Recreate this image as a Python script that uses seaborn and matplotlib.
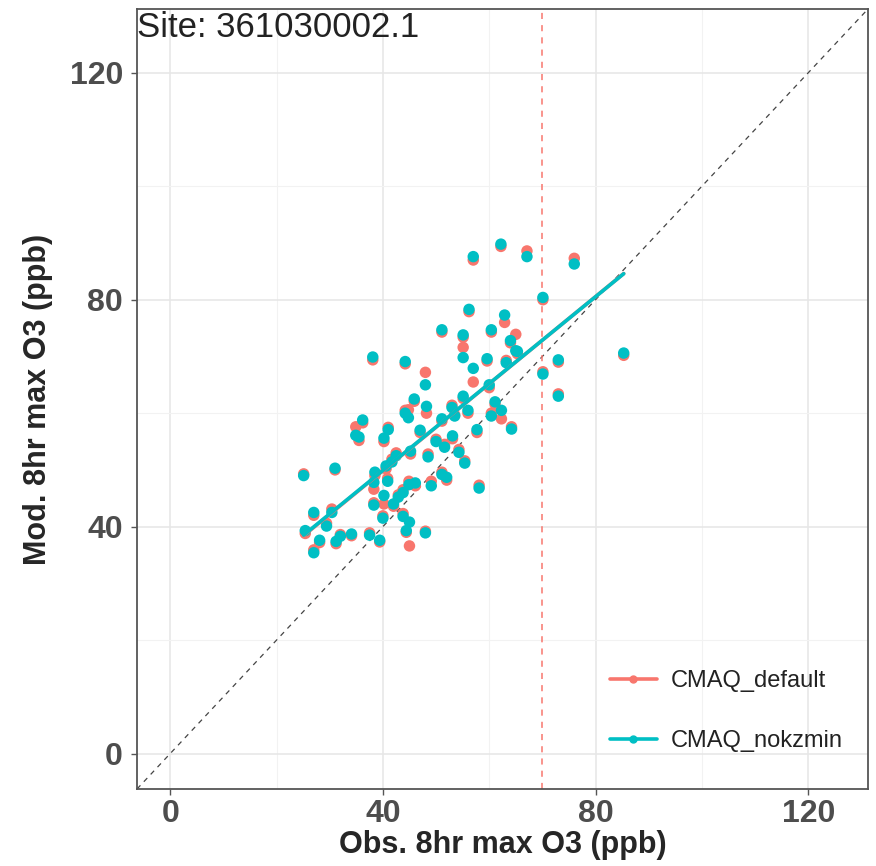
import numpy as np
import pandas as pd
import matplotlib
matplotlib.use("Agg")
import matplotlib.pyplot as plt
from matplotlib.lines import Line2D
from matplotlib.ticker import MultipleLocator
import seaborn as sns

obs = [25.1, 27.0, 25.4, 27.0, 28.1, 29.4, 31.0, 30.4, 31.2, 32.0,
       34.1, 34.9, 36.2, 35.5, 38.1, 37.5, 39.4, 38.3, 38.5, 38.3,
       40.0, 40.2, 41.0, 40.6, 40.9, 41.7, 40.2, 42.0, 42.9, 43.8,
       44.2, 44.2, 44.8, 45.9, 45.2, 43.8, 44.4, 45.0, 46.1, 44.9,
       48.0, 48.0, 48.2, 48.5, 49.1, 51.1, 51.1, 51.6, 51.1, 52.0,
       53.5, 53.1, 54.3, 55.1, 55.1, 55.1, 55.4, 56.2, 57.0, 57.0,
       57.7, 58.1, 59.6, 60.4, 60.0, 60.4, 61.1, 62.2, 62.9, 62.3,
       63.2, 64.0, 64.2, 65.0, 65.3, 67.1, 70.1, 70.1, 73.0, 73.0,
       76.0, 85.3, 53.0, 56.0, 50.0, 47.0, 42.5]
mod_nokzmin = [49.0, 42.5, 39.3, 35.4, 37.6, 40.1, 50.3, 42.5, 37.4, 38.3,
               38.7, 56.1, 58.8, 55.8, 69.9, 38.5, 37.6, 43.8, 49.6, 47.8,
               41.5, 55.6, 57.1, 50.7, 48.0, 51.4, 45.5, 44.0, 45.2, 46.0,
               69.1, 60.0, 59.2, 62.5, 53.3, 41.8, 39.3, 40.8, 47.7, 47.4,
               38.9, 65.0, 61.2, 52.3, 47.2, 74.7, 59.0, 54.0, 49.2, 48.7,
               59.5, 56.0, 53.1, 73.8, 69.8, 63.0, 51.2, 78.3, 87.6, 67.9,
               57.1, 46.8, 69.6, 74.7, 65.0, 59.5, 62.0, 89.8, 77.3, 60.5,
               68.9, 72.8, 57.2, 71.0, 70.9, 87.6, 80.4, 66.9, 69.4, 63.0,
               86.3, 70.6, 61.0, 60.5, 55.0, 57.0, 52.5]
mod_default = [49.3, 42.0, 38.8, 35.9, 37.2, 40.6, 50.0, 43.1, 37.0, 38.6,
               38.4, 57.6, 58.3, 55.2, 69.4, 38.9, 37.3, 44.2, 49.0, 46.6,
               41.9, 55.0, 57.5, 50.2, 48.5, 51.9, 44.0, 43.6, 45.6, 46.5,
               68.7, 60.5, 60.6, 62.1, 52.8, 42.3, 39.0, 36.6, 47.2, 48.0,
               39.2, 67.2, 60.0, 52.8, 48.0, 74.3, 58.6, 54.5, 49.6, 48.2,
               59.7, 55.5, 53.6, 73.4, 71.6, 62.6, 51.6, 77.9, 87.0, 65.5,
               56.6, 47.3, 69.2, 74.3, 64.5, 60.0, 61.6, 89.4, 76.0, 59.0,
               69.3, 72.4, 57.6, 73.9, 70.5, 88.6, 80.0, 67.3, 69.0, 63.4,
               87.3, 70.2, 61.4, 60.0, 55.4, 56.6, 53.0]
series_names = ["CMAQ_default", "CMAQ_nokzmin"]
series_colors = ["#F8766D", "#00BFC4"]
site_label = "Site: 361030002.1"
threshold = 70
tick_values = [0, 40, 80, 120]

df = pd.DataFrame({
    "obs": obs * 2,
    "mod": mod_default + mod_nokzmin,
    "run": [series_names[0]] * len(obs) + [series_names[1]] * len(obs),
})

sns.set_theme(style="white")
plt.rcParams['font.family'] = ['Liberation Sans', 'DejaVu Sans']

fig = plt.figure(figsize=(8.76, 8.66), dpi=100)
ax = fig.add_axes([137/876, 1-789/866, (868-137)/876, (789-9)/866])

lim = (-6.25, 131.25)
ax.set_xlim(lim)
ax.set_ylim(lim)

# grid
ax.xaxis.set_major_locator(MultipleLocator(40))
ax.yaxis.set_major_locator(MultipleLocator(40))
ax.xaxis.set_minor_locator(MultipleLocator(20))
ax.yaxis.set_minor_locator(MultipleLocator(20))
ax.grid(which="major", color="#E6E6E6", lw=1.1, zorder=0)
ax.grid(which="minor", color="#F2F2F2", lw=0.8, zorder=0)
ax.set_axisbelow(True)

sns.scatterplot(data=df, x="obs", y="mod", hue="run", hue_order=series_names,
                palette=series_colors, s=68, linewidth=0, alpha=1,
                legend=False, ax=ax, zorder=3)

for name, col in zip(series_names, series_colors):
    sub = df[df["run"] == name]
    sns.regplot(data=sub, x="obs", y="mod", scatter=False, ci=None,
                truncate=True, color=col, line_kws={"lw": 2.6, "zorder": 4},
                ax=ax)

ax.plot(lim, lim, ls=(0, (4, 4)), color="#444444", lw=0.9, zorder=2)
ax.axvline(threshold, ls=(0, (4, 4)), color="#F8766D", lw=1.1, zorder=2)

ax.set_xlim(lim)
ax.set_ylim(lim)
ax.set_xticks(tick_values)
ax.set_yticks(tick_values)
ax.set_xticklabels([str(v) for v in tick_values])
ax.set_yticklabels([str(v) for v in tick_values])
ax.tick_params(axis="both", which="major", labelsize=23, length=4, width=1,
               color="#555555", labelcolor="#4D4D4D", pad=6, direction="out",
               bottom=True, left=True)
ax.tick_params(axis="x", which="major", pad=3)
ax.tick_params(which="minor", length=0)
for t in ax.get_xticklabels() + ax.get_yticklabels():
    t.set_fontweight("bold")

ax.set_xlabel("Obs. 8hr max O3 (ppb)", fontsize=22, fontweight="bold", labelpad=1)
ax.set_ylabel("Mod. 8hr max O3 (ppb)", fontsize=22, fontweight="bold", labelpad=12)

for sp in ax.spines.values():
    sp.set_color("#555555")
    sp.set_linewidth(1.3)

ax.text(0.0, 0.997, site_label, transform=ax.transAxes, ha="left", va="top",
        fontsize=25, color="#222222", zorder=6)

handles = [Line2D([0], [0], color=c, lw=2.6, marker="o", markersize=5)
           for c in series_colors]
leg = ax.legend(handles, series_names, loc="lower right", frameon=False,
                fontsize=17, handlelength=2.0, labelspacing=1.6,
                bbox_to_anchor=(0.995, 0.02), handletextpad=0.6)
for t in leg.get_texts():
    t.set_color("#222222")

fig.savefig("out.png", dpi=100)
